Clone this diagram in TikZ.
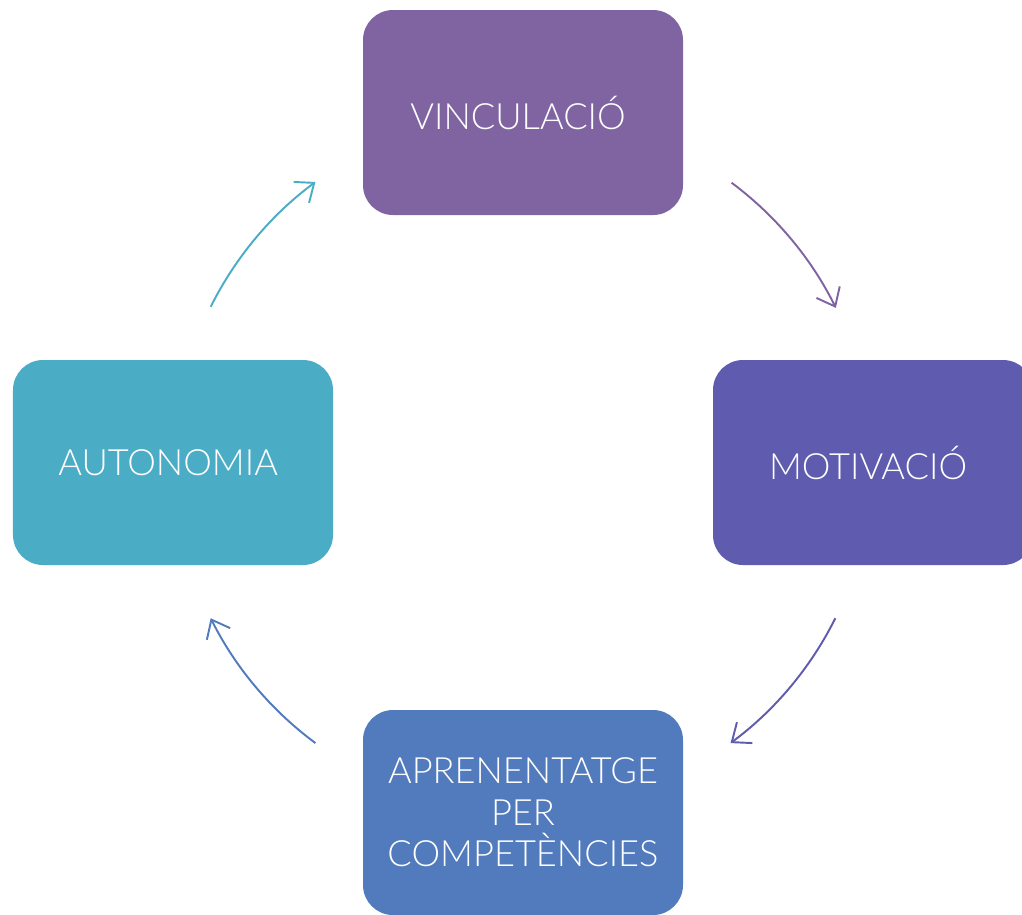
\documentclass[tikz,border=0pt]{standalone}
\usepackage{fontspec}
\setmainfont{Lato}[UprightFont = * Light]
\usepackage{tikz}
\usetikzlibrary{arrows.meta}

\definecolor{vinccol}{HTML}{8064A2}
\definecolor{motivcol}{HTML}{5F5BAE}
\definecolor{aprencol}{HTML}{517BBD}
\definecolor{autocol}{HTML}{4BACC6}

\begin{document}
\begin{tikzpicture}[
    every node/.style = { align = center, rounded corners = 0.3cm, text = white,
      minimum width = 3.2cm, minimum height = 2.05cm,
      font = \fontsize{10.3}{11.8}\selectfont },
    cycle arrow/.style = { line width = 0.55pt, -{Straight Barb[length=1.6mm, width=2.6mm]} }]
      \clip (0,0) rectangle (10.22,-9.14);
      \coordinate (mid) at (5.23,-4.625);
      \node [fill = vinccol] (vinc) at ([yshift = 3.5cm] mid) { VINCULACIÓ };
      \node [fill = motivcol] (motiv) at ([xshift = 3.5cm] mid) { MOTIVACIÓ };
      \node [fill = aprencol] (apren) at ([yshift = -3.5cm] mid) { APRENENTATGE \\ PER \\ COMPETÈNCIES };
      \node [fill = autocol] (auto) at ([xshift = -3.5cm] mid) { AUTONOMIA };
      % arcs round the cycle
      \draw [cycle arrow, vinccol] ([shift={(53.3:3.49)}]mid) arc [start angle = 53.3, end angle = 26.3, radius = 3.49];
      \draw [cycle arrow, motivcol] ([shift={(-26.5:3.49)}]mid) arc [start angle = -26.5, end angle = -53.5, radius = 3.49];
      \draw [cycle arrow, aprencol] ([shift={(233.5:3.49)}]mid) arc [start angle = 233.5, end angle = 206.5, radius = 3.49];
      \draw [cycle arrow, autocol] ([shift={(153.5:3.49)}]mid) arc [start angle = 153.5, end angle = 126.5, radius = 3.49];
    \end{tikzpicture}
\end{document}
